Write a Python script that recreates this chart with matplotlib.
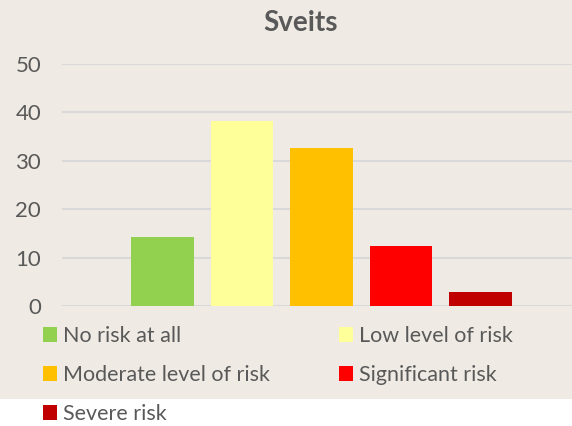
import numpy as np
import matplotlib.pyplot as plt
from matplotlib.patches import Rectangle, Patch

title = "Sveits"
categories = ["No risk at all", "Low level of risk", "Moderate level of risk",
              "Significant risk", "Severe risk"]
values = [14.3, 38.3, 32.7, 12.4, 2.9]
colors = ["#92D050", "#FFFF99", "#FFC000", "#FF0000", "#C00000"]
yticks = [0, 10, 20, 30, 40, 50]

plt.rcParams["font.family"] = ["Lato", "DejaVu Sans"]
text_col = "#595959"
bg = "#EFEBE4"

W, H = 572, 426
fig = plt.figure(figsize=(W / 100, H / 100), dpi=100, facecolor="white")

# beige chart area (ends above the last legend row)
fig.patches.append(Rectangle((0, 1 - 399 / H), 1, 399 / H, transform=fig.transFigure,
                             facecolor=bg, edgecolor="none", zorder=-10))

ax = fig.add_axes([62 / W, 1 - 306 / H, 1 - 62 / W, (306 - 64) / H])
ax.set_facecolor("none")

x = np.arange(len(values))
ax.bar(x, values, width=0.79, color=colors, zorder=3)

ax.set_ylim(0, 50)
ax.set_xlim(-1.264, 5.151)
ax.set_yticks(yticks)
ax.set_xticks([])
ax.grid(axis="y", color="#D9D9D9", linewidth=1.5, zorder=0)
for s in ax.spines.values():
    s.set_visible(False)
ax.tick_params(axis="y", length=0, pad=15, labelsize=16, labelcolor=text_col)

fig.text(300.5 / W, 1 - 23 / H, title, ha="center", va="center",
         fontsize=20, fontweight="bold", color=text_col)

# legend, filled column by column to mimic row-wise order
handles = [Patch(facecolor=c, edgecolor="none") for c in colors]
order = [0, 2, 4, 1, 3]
leg = fig.legend([handles[i] for i in order], [categories[i] for i in order],
                 loc="upper left", bbox_to_anchor=(43 / W, 1 - 326 / H), ncol=2,
                 frameon=False, fontsize=15.5, labelcolor=text_col,
                 handlelength=0.65, handleheight=0.65, handletextpad=0.28,
                 columnspacing=3.2, labelspacing=0.88, borderpad=0,
                 borderaxespad=0)

fig.savefig("out.png", dpi=100, facecolor="white")
